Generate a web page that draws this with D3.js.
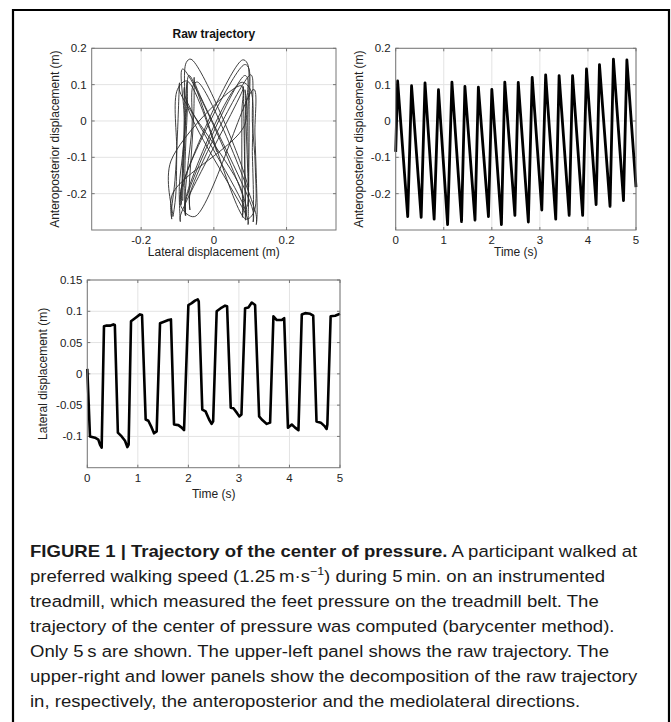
<!DOCTYPE html>
<head>
<meta charset="utf-8">
<title>Trajectory of the center of pressure</title>
<script src="https://cdn.jsdelivr.net/npm/d3@7/dist/d3.min.js"></script>
</head>
<style>
body { margin: 0; background: #fff; }
svg { font-family: "Liberation Sans", Arial, sans-serif; }
.grid line { stroke: #e3e3e3; stroke-width: 1; }
.frame { fill: none; stroke: #777; stroke-width: 1; }
.tick { font-size: 11.5px; fill: #222; }
.label { font-size: 12px; fill: #222; }
.caption { font-size: 16.5px; fill: #1a1a1a; }
</style>
<body>
<svg id="svg" width="671" height="722"></svg>
<script>

// anteroposterior displacement (m) read at peaks / troughs
var apTime  = [0, 0.04, 0.25, 0.33, 0.53, 0.61, 0.80, 0.89, 1.08, 1.17, 1.37, 1.44, 1.65, 1.72,
               1.93, 2.00, 2.20, 2.27, 2.48, 2.55, 2.76, 2.84, 3.04, 3.12, 3.33, 3.40, 3.61, 3.68,
               3.89, 3.97, 4.17, 4.24, 4.46, 4.53, 4.74, 4.81, 5.00];
var apValue = [-0.085, 0.11, -0.263, 0.097, -0.265, 0.105, -0.27, 0.086, -0.285, 0.107, -0.277, 0.095, -0.273, 0.093,
               -0.263, 0.087, -0.285, 0.107, -0.26, 0.106, -0.278, 0.12, -0.245, 0.127, -0.27, 0.125, -0.26, 0.125,
               -0.26, 0.143, -0.23, 0.155, -0.235, 0.17, -0.219, 0.168, -0.182];

// lateral displacement (m)
var latTime  = [0, 0.053, 0.152, 0.218, 0.251, 0.284, 0.33, 0.37, 0.449, 0.515, 0.545, 0.605, 0.68, 0.746, 0.792, 0.818,
                0.865, 0.944, 1.043, 1.083, 1.155, 1.208, 1.274, 1.32, 1.373, 1.439, 1.505, 1.604, 1.655,
                1.716, 1.802, 1.868, 1.914, 2.0, 2.066, 2.132, 2.185, 2.205, 2.275, 2.34, 2.41, 2.46, 2.49,
                2.56, 2.66, 2.726, 2.766, 2.838, 2.891, 2.957, 3.01, 3.05, 3.122, 3.188, 3.254, 3.32,
                3.400, 3.452, 3.551, 3.617, 3.683, 3.749, 3.848, 3.895, 3.97, 4.046, 4.112, 4.178,
                4.244, 4.31, 4.41, 4.47, 4.535, 4.62, 4.70, 4.735, 4.75, 4.815, 4.904, 5.0];
var latValue = [0.008, -0.1, -0.102, -0.105, -0.113, -0.118, 0.076, 0.077, 0.077, 0.079, 0.078, -0.094, -0.1, -0.107, -0.117, -0.113,
                0.084, 0.089, 0.095, 0.094, -0.073, -0.075, -0.086, -0.095, -0.092, 0.081, 0.083, 0.086, 0.087,
                -0.081, -0.082, -0.086, -0.09, 0.11, 0.113, 0.117, 0.119, 0.116, -0.057, -0.06, -0.073, -0.08, -0.076,
                0.1, 0.106, 0.109, 0.108, -0.054, -0.055, -0.062, -0.068, -0.065, 0.105, 0.106, 0.114, 0.11,
                -0.068, -0.073, -0.08, -0.078, 0.092, 0.086, 0.086, 0.089, -0.086, -0.081, -0.086, -0.09,
                0.095, 0.097, 0.096, 0.093, -0.076, -0.078, -0.084, -0.088, -0.081, 0.092, 0.093, 0.096];

var apTicks   = [0.2, 0.1, 0, -0.1, -0.2];
var apLabels  = ["0.2", "0.1", "0", "-0.1", "-0.2"];
var latTicks  = [-0.2, 0, 0.2];
var latLabels = ["-0.2", "0", "0.2"];
var latTicksY  = [0.15, 0.1, 0.05, 0, -0.05, -0.1];
var latLabelsY = ["0.15", "0.1", "0.05", "0", "-0.05", "-0.1"];
var timeTicks = [0, 1, 2, 3, 4, 5];

var svg = d3.select("svg");

svg.append("rect").attr("width", 671).attr("height", 722).attr("fill", "#fff");

// outer figure frame (open at the bottom)
svg.append("path")
    .attr("d", "M13,722 V10 H669 V722")
    .attr("fill", "none").attr("stroke", "#000").attr("stroke-width", 2.2);

function interp(ts, vs, t) {
  var i = d3.bisectLeft(ts, t);
  if (i <= 0) return vs[0];
  if (i >= ts.length) return vs[vs.length - 1];
  var k = (t - ts[i - 1]) / (ts[i] - ts[i - 1]);
  return vs[i - 1] + k * (vs[i] - vs[i - 1]);
}

// draw one MATLAB-like axes box
function panel(box, xs, ys, xt, xl, yt, yl, tickY) {
  var g = svg.append("g");
  var grid = g.append("g").attr("class", "grid");
  grid.selectAll(".gx").data(xt).enter().append("line")
      .attr("x1", function(d) { return xs(d); }).attr("x2", function(d) { return xs(d); })
      .attr("y1", box.top).attr("y2", box.bottom);
  grid.selectAll(".gy").data(yt).enter().append("line")
      .attr("y1", function(d) { return ys(d); }).attr("y2", function(d) { return ys(d); })
      .attr("x1", box.left).attr("x2", box.right);

  // small inward ticks
  var tk = g.append("g").attr("stroke", "#777");
  xt.forEach(function(d) {
    tk.append("line").attr("x1", xs(d)).attr("x2", xs(d)).attr("y1", box.bottom).attr("y2", box.bottom - 3);
    tk.append("line").attr("x1", xs(d)).attr("x2", xs(d)).attr("y1", box.top).attr("y2", box.top + 3);
  });
  yt.forEach(function(d) {
    tk.append("line").attr("y1", ys(d)).attr("y2", ys(d)).attr("x1", box.left).attr("x2", box.left + 3);
    tk.append("line").attr("y1", ys(d)).attr("y2", ys(d)).attr("x1", box.right).attr("x2", box.right - 3);
  });

  g.selectAll(".xl").data(xt).enter().append("text")
      .attr("class", "tick")
      .attr("x", function(d) { return xs(d); })
      .attr("y", tickY)
      .attr("text-anchor", "middle")
      .text(function(d, i) { return xl[i]; });
  g.selectAll(".yl").data(yt).enter().append("text")
      .attr("class", "tick")
      .attr("x", box.left - 5)
      .attr("y", function(d) { return ys(d); })
      .attr("dy", "0.35em")
      .attr("text-anchor", "end")
      .text(function(d, i) { return yl[i]; });
  return g;
}

function frame(box) {
  svg.append("rect").attr("class", "frame")
      .attr("x", box.left).attr("y", box.top)
      .attr("width", box.right - box.left).attr("height", box.bottom - box.top);
}

function ylabel(x, y, txt) {
  svg.append("text").attr("class", "label")
      .attr("transform", "translate(" + x + "," + y + ") rotate(-90)")
      .attr("text-anchor", "middle").text(txt);
}

function xlabel(x, y, txt) {
  svg.append("text").attr("class", "label")
      .attr("x", x).attr("y", y).attr("text-anchor", "middle").text(txt);
}

// ---- upper-left : raw trajectory
var b1 = {left: 91.7, right: 336, top: 48.3, bottom: 230};
var x1 = d3.scaleLinear().domain([-0.336, 0.336]).range([b1.left, b1.right]);
var y1 = d3.scaleLinear().domain([-0.3, 0.2]).range([b1.bottom, b1.top]);
panel(b1, x1, y1, latTicks, latLabels, apTicks, apLabels, 244);

var allTime = Array.from(new Set(apTime.concat(latTime))).sort(d3.ascending);
var raw = allTime.map(function(t) {
  return [interp(latTime, latValue, t), interp(apTime, apValue, t)];
});
svg.append("path")
    .datum(raw)
    .attr("fill", "none").attr("stroke", "#2a2a2a").attr("stroke-width", 0.9)
    .attr("stroke-linejoin", "round")
    .attr("d", d3.line().curve(d3.curveCatmullRom.alpha(0.5))
        .x(function(d) { return x1(d[0]); }).y(function(d) { return y1(d[1]); }));
frame(b1);

svg.append("text").attr("x", (b1.left + b1.right) / 2).attr("y", 38)
    .attr("text-anchor", "middle").attr("font-size", "12px").attr("font-weight", "bold")
    .attr("fill", "#111").text("Raw trajectory");
ylabel(59, (b1.top + b1.bottom) / 2, "Anteroposterior displacement (m)");
xlabel((b1.left + b1.right) / 2, 256, "Lateral displacement (m)");

// ---- upper-right : anteroposterior vs time
var b2 = {left: 395.7, right: 636, top: 48.3, bottom: 230};
var x2 = d3.scaleLinear().domain([0, 5]).range([b2.left, b2.right]);
var y2 = d3.scaleLinear().domain([-0.3, 0.2]).range([b2.bottom, b2.top]);
panel(b2, x2, y2, timeTicks, timeTicks.map(String), apTicks, apLabels, 244);
svg.append("path")
    .datum(d3.zip(apTime, apValue))
    .attr("fill", "none").attr("stroke", "#000").attr("stroke-width", 2.8)
    .attr("stroke-linejoin", "round")
    .attr("d", d3.line().x(function(d) { return x2(d[0]); }).y(function(d) { return y2(d[1]); }));
frame(b2);
ylabel(363, (b2.top + b2.bottom) / 2, "Anteroposterior displacement (m)");
xlabel((b2.left + b2.right) / 2, 256, "Time (s)");

// ---- lower : lateral vs time
var b3 = {left: 87.3, right: 340, top: 280, bottom: 467.7};
var x3 = d3.scaleLinear().domain([0, 5]).range([b3.left, b3.right]);
var y3 = d3.scaleLinear().domain([-0.15, 0.15]).range([b3.bottom, b3.top]);
panel(b3, x3, y3, timeTicks, timeTicks.map(String), latTicksY, latLabelsY, 482);
svg.append("path")
    .datum(d3.zip(latTime, latValue))
    .attr("fill", "none").attr("stroke", "#000").attr("stroke-width", 2.6)
    .attr("stroke-linejoin", "round")
    .attr("d", d3.line().x(function(d) { return x3(d[0]); }).y(function(d) { return y3(d[1]); }));
frame(b3);
ylabel(47, (b3.top + b3.bottom) / 2, "Lateral displacement (m)");
xlabel((b3.left + b3.right) / 2, 498, "Time (s)");

// ---- caption (stretched a bit to mimic the wider Helvetica Neue)
var cap = svg.append("text").attr("class", "caption")
    .attr("transform", "translate(30,0) scale(1.125,1)");
var l1 = cap.append("tspan").attr("x", 0).attr("y", 557);
l1.append("tspan").attr("font-weight", "bold").text("FIGURE 1 | Trajectory of the center of pressure.");
l1.append("tspan").text(" A participant walked at");
var l2 = cap.append("tspan").attr("x", 0).attr("y", 582);
l2.append("tspan").text("preferred walking speed (1.25\u2009m\u00b7s");
l2.append("tspan").attr("font-size", "11px").attr("dy", -7).text("\u22121");
l2.append("tspan").attr("dy", 7).text(") during 5\u2009min. on an instrumented");
var rest = [
  "treadmill, which measured the feet pressure on the treadmill belt. The",
  "trajectory of the center of pressure was computed (barycenter method).",
  "Only 5\u2009s are shown. The upper-left panel shows the raw trajectory. The",
  "upper-right and lower panels show the decomposition of the raw trajectory",
  "in, respectively, the anteroposterior and the mediolateral directions."
];
rest.forEach(function(s, i) {
  cap.append("tspan").attr("x", 0).attr("y", 607 + 25 * i).text(s);
});

</script>
</body>
